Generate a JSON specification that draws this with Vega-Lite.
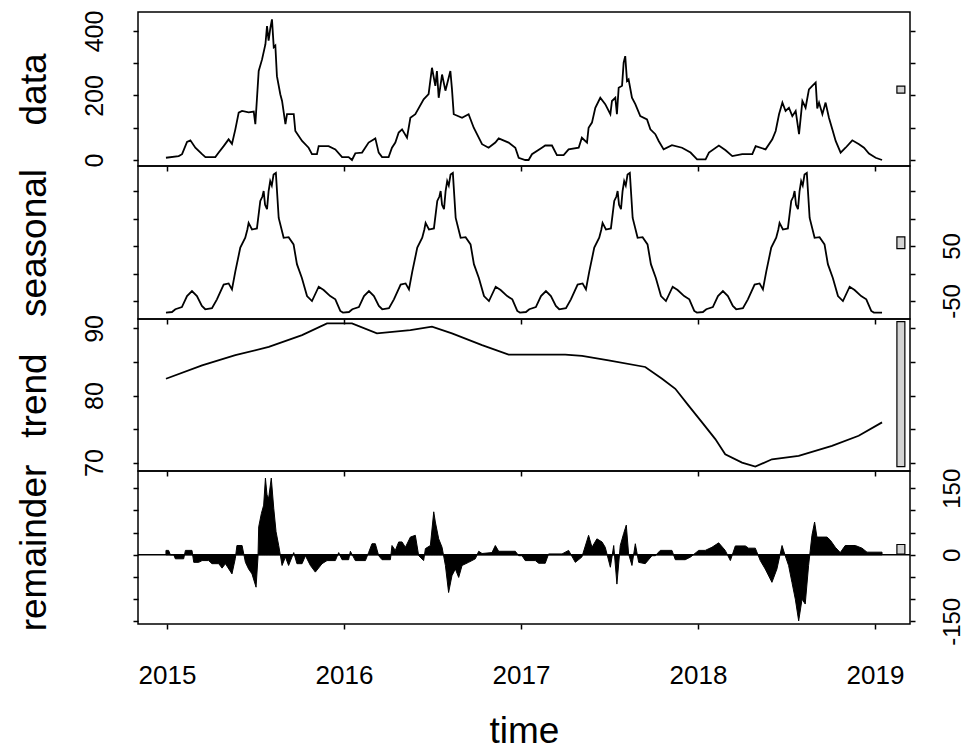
{
  "$schema": "https://vega.github.io/schema/vega-lite/v6.json",
  "padding": {"left": 14, "top": 9, "right": 0, "bottom": 0},
  "spacing": 0,
  "bounds": "flush",
  "config": {
    "font": "Liberation Sans",
    "view": {"stroke": "black", "strokeWidth": 1.5},
    "axis": {"domain": false, "grid": false, "tickColor": "black", "tickWidth": 1.5, "tickSize": 5, "labelColor": "black", "titleColor": "black", "labelFont": "Liberation Sans", "titleFont": "Liberation Sans", "titleFontWeight": "normal", "labelOverlap": false, "labelBound": false, "labelFlush": false}
  },
  "datasets": {
    "data": [
      {"t":2014.994,"v":7},{"t":2015.066,"v":12},{"t":2015.085,"v":18},{"t":2015.113,"v":56},{"t":2015.132,"v":61},{"t":2015.160,"v":38},{"t":2015.198,"v":18},{"t":2015.217,"v":9},{"t":2015.273,"v":9},{"t":2015.292,"v":23},{"t":2015.320,"v":43},{"t":2015.348,"v":64},{"t":2015.367,"v":50},{"t":2015.386,"v":95},{"t":2015.405,"v":147},{"t":2015.424,"v":152},{"t":2015.461,"v":148},{"t":2015.490,"v":150},{"t":2015.499,"v":111},{"t":2015.518,"v":276},{"t":2015.537,"v":312},{"t":2015.556,"v":359},{"t":2015.565,"v":415},{"t":2015.574,"v":370},{"t":2015.584,"v":410},{"t":2015.593,"v":436},{"t":2015.603,"v":350},{"t":2015.612,"v":355},{"t":2015.621,"v":260},{"t":2015.640,"v":204},{"t":2015.650,"v":183},{"t":2015.669,"v":111},{"t":2015.678,"v":142},{"t":2015.716,"v":142},{"t":2015.725,"v":90},{"t":2015.763,"v":59},{"t":2015.800,"v":38},{"t":2015.819,"v":18},{"t":2015.847,"v":18},{"t":2015.857,"v":43},{"t":2015.913,"v":43},{"t":2015.951,"v":33},{"t":2015.989,"v":9},{"t":2016.026,"v":9},{"t":2016.045,"v":0},{"t":2016.064,"v":21},{"t":2016.102,"v":23},{"t":2016.139,"v":54},{"t":2016.177,"v":67},{"t":2016.196,"v":23},{"t":2016.215,"v":9},{"t":2016.252,"v":9},{"t":2016.271,"v":38},{"t":2016.290,"v":54},{"t":2016.309,"v":85},{"t":2016.328,"v":95},{"t":2016.356,"v":69},{"t":2016.375,"v":131},{"t":2016.403,"v":142},{"t":2016.450,"v":188},{"t":2016.478,"v":204},{"t":2016.497,"v":286},{"t":2016.516,"v":230},{"t":2016.525,"v":276},{"t":2016.535,"v":193},{"t":2016.554,"v":265},{"t":2016.573,"v":215},{"t":2016.601,"v":276},{"t":2016.610,"v":220},{"t":2016.620,"v":142},{"t":2016.667,"v":131},{"t":2016.704,"v":142},{"t":2016.733,"v":100},{"t":2016.780,"v":49},{"t":2016.817,"v":38},{"t":2016.855,"v":54},{"t":2016.874,"v":67},{"t":2016.930,"v":54},{"t":2016.968,"v":38},{"t":2016.987,"v":7},{"t":2017.024,"v":0},{"t":2017.043,"v":0},{"t":2017.062,"v":18},{"t":2017.118,"v":38},{"t":2017.137,"v":45},{"t":2017.175,"v":45},{"t":2017.203,"v":15},{"t":2017.241,"v":15},{"t":2017.269,"v":33},{"t":2017.326,"v":38},{"t":2017.344,"v":69},{"t":2017.373,"v":54},{"t":2017.382,"v":100},{"t":2017.401,"v":116},{"t":2017.420,"v":162},{"t":2017.448,"v":193},{"t":2017.476,"v":173},{"t":2017.505,"v":142},{"t":2017.514,"v":183},{"t":2017.533,"v":193},{"t":2017.542,"v":142},{"t":2017.552,"v":224},{"t":2017.571,"v":230},{"t":2017.580,"v":302},{"t":2017.589,"v":322},{"t":2017.599,"v":245},{"t":2017.608,"v":250},{"t":2017.627,"v":193},{"t":2017.646,"v":173},{"t":2017.674,"v":136},{"t":2017.712,"v":126},{"t":2017.731,"v":95},{"t":2017.759,"v":80},{"t":2017.778,"v":59},{"t":2017.806,"v":33},{"t":2017.853,"v":46},{"t":2017.910,"v":38},{"t":2017.958,"v":23},{"t":2017.995,"v":2},{"t":2018.043,"v":2},{"t":2018.062,"v":23},{"t":2018.118,"v":45},{"t":2018.156,"v":30},{"t":2018.194,"v":12},{"t":2018.250,"v":18},{"t":2018.307,"v":18},{"t":2018.326,"v":43},{"t":2018.382,"v":33},{"t":2018.420,"v":64},{"t":2018.439,"v":90},{"t":2018.458,"v":142},{"t":2018.477,"v":178},{"t":2018.495,"v":152},{"t":2018.514,"v":162},{"t":2018.533,"v":136},{"t":2018.552,"v":152},{"t":2018.571,"v":80},{"t":2018.590,"v":183},{"t":2018.608,"v":162},{"t":2018.627,"v":219},{"t":2018.646,"v":230},{"t":2018.665,"v":240},{"t":2018.674,"v":160},{"t":2018.684,"v":178},{"t":2018.703,"v":142},{"t":2018.721,"v":178},{"t":2018.740,"v":131},{"t":2018.759,"v":95},{"t":2018.778,"v":59},{"t":2018.806,"v":23},{"t":2018.834,"v":38},{"t":2018.872,"v":61},{"t":2018.910,"v":49},{"t":2018.938,"v":38},{"t":2018.966,"v":20},{"t":2019.004,"v":7},{"t":2019.040,"v":0}
    ],
    "seasonal": [
      {"t":2014.994,"v":-71},{"t":2015.028,"v":-70},{"t":2015.047,"v":-65},{"t":2015.084,"v":-61},{"t":2015.113,"v":-41},{"t":2015.141,"v":-32},{"t":2015.169,"v":-41},{"t":2015.197,"v":-59},{"t":2015.216,"v":-65},{"t":2015.254,"v":-63},{"t":2015.282,"v":-47},{"t":2015.320,"v":-20},{"t":2015.348,"v":-18},{"t":2015.367,"v":-29},{"t":2015.386,"v":4},{"t":2015.414,"v":47},{"t":2015.442,"v":65},{"t":2015.454,"v":80},{"t":2015.461,"v":92},{"t":2015.480,"v":80},{"t":2015.508,"v":82},{"t":2015.527,"v":132},{"t":2015.539,"v":140},{"t":2015.546,"v":150},{"t":2015.554,"v":125},{"t":2015.565,"v":117},{"t":2015.574,"v":150},{"t":2015.583,"v":168},{"t":2015.592,"v":160},{"t":2015.602,"v":180},{"t":2015.615,"v":183},{"t":2015.631,"v":101},{"t":2015.659,"v":65},{"t":2015.687,"v":66},{"t":2015.715,"v":53},{"t":2015.734,"v":17},{"t":2015.762,"v":-8},{"t":2015.791,"v":-41},{"t":2015.819,"v":-50},{"t":2015.857,"v":-24},{"t":2015.885,"v":-30},{"t":2015.922,"v":-41},{"t":2015.951,"v":-47},{"t":2015.979,"v":-68},
      {"t":2015.994,"v":-71},{"t":2016.028,"v":-70},{"t":2016.047,"v":-65},{"t":2016.084,"v":-61},{"t":2016.113,"v":-41},{"t":2016.141,"v":-32},{"t":2016.169,"v":-41},{"t":2016.197,"v":-59},{"t":2016.216,"v":-65},{"t":2016.254,"v":-63},{"t":2016.282,"v":-47},{"t":2016.320,"v":-20},{"t":2016.348,"v":-18},{"t":2016.367,"v":-29},{"t":2016.386,"v":4},{"t":2016.414,"v":47},{"t":2016.442,"v":65},{"t":2016.454,"v":80},{"t":2016.461,"v":92},{"t":2016.480,"v":80},{"t":2016.508,"v":82},{"t":2016.527,"v":132},{"t":2016.539,"v":140},{"t":2016.546,"v":150},{"t":2016.554,"v":125},{"t":2016.565,"v":117},{"t":2016.574,"v":150},{"t":2016.583,"v":168},{"t":2016.592,"v":160},{"t":2016.602,"v":180},{"t":2016.615,"v":183},{"t":2016.631,"v":101},{"t":2016.659,"v":65},{"t":2016.687,"v":66},{"t":2016.715,"v":53},{"t":2016.734,"v":17},{"t":2016.762,"v":-8},{"t":2016.791,"v":-41},{"t":2016.819,"v":-50},{"t":2016.857,"v":-24},{"t":2016.885,"v":-30},{"t":2016.922,"v":-41},{"t":2016.951,"v":-47},{"t":2016.979,"v":-68},
      {"t":2016.994,"v":-71},{"t":2017.028,"v":-70},{"t":2017.047,"v":-65},{"t":2017.084,"v":-61},{"t":2017.113,"v":-41},{"t":2017.141,"v":-32},{"t":2017.169,"v":-41},{"t":2017.197,"v":-59},{"t":2017.216,"v":-65},{"t":2017.254,"v":-63},{"t":2017.282,"v":-47},{"t":2017.320,"v":-20},{"t":2017.348,"v":-18},{"t":2017.367,"v":-29},{"t":2017.386,"v":4},{"t":2017.414,"v":47},{"t":2017.442,"v":65},{"t":2017.454,"v":80},{"t":2017.461,"v":92},{"t":2017.480,"v":80},{"t":2017.508,"v":82},{"t":2017.527,"v":132},{"t":2017.539,"v":140},{"t":2017.546,"v":150},{"t":2017.554,"v":125},{"t":2017.565,"v":117},{"t":2017.574,"v":150},{"t":2017.583,"v":168},{"t":2017.592,"v":160},{"t":2017.602,"v":180},{"t":2017.615,"v":183},{"t":2017.631,"v":101},{"t":2017.659,"v":65},{"t":2017.687,"v":66},{"t":2017.715,"v":53},{"t":2017.734,"v":17},{"t":2017.762,"v":-8},{"t":2017.791,"v":-41},{"t":2017.819,"v":-50},{"t":2017.857,"v":-24},{"t":2017.885,"v":-30},{"t":2017.922,"v":-41},{"t":2017.951,"v":-47},{"t":2017.979,"v":-68},
      {"t":2017.994,"v":-71},{"t":2018.028,"v":-70},{"t":2018.047,"v":-65},{"t":2018.084,"v":-61},{"t":2018.113,"v":-41},{"t":2018.141,"v":-32},{"t":2018.169,"v":-41},{"t":2018.197,"v":-59},{"t":2018.216,"v":-65},{"t":2018.254,"v":-63},{"t":2018.282,"v":-47},{"t":2018.320,"v":-20},{"t":2018.348,"v":-18},{"t":2018.367,"v":-29},{"t":2018.386,"v":4},{"t":2018.414,"v":47},{"t":2018.442,"v":65},{"t":2018.454,"v":80},{"t":2018.461,"v":92},{"t":2018.480,"v":80},{"t":2018.508,"v":82},{"t":2018.527,"v":132},{"t":2018.539,"v":140},{"t":2018.546,"v":150},{"t":2018.554,"v":125},{"t":2018.565,"v":117},{"t":2018.574,"v":150},{"t":2018.583,"v":168},{"t":2018.592,"v":160},{"t":2018.602,"v":180},{"t":2018.615,"v":183},{"t":2018.631,"v":101},{"t":2018.659,"v":65},{"t":2018.687,"v":66},{"t":2018.715,"v":53},{"t":2018.734,"v":17},{"t":2018.762,"v":-8},{"t":2018.791,"v":-41},{"t":2018.819,"v":-50},{"t":2018.857,"v":-24},{"t":2018.885,"v":-30},{"t":2018.922,"v":-41},{"t":2018.951,"v":-47},{"t":2018.979,"v":-68},
      {"t":2018.994,"v":-71},{"t":2019.040,"v":-71}
    ],
    "trend": [
      {"t":2014.994,"v":82.5},{"t":2015.198,"v":84.5},{"t":2015.386,"v":86},{"t":2015.575,"v":87.25},{"t":2015.763,"v":89},{"t":2015.904,"v":90.75},{"t":2016.045,"v":90.75},{"t":2016.186,"v":89.25},{"t":2016.375,"v":89.75},{"t":2016.497,"v":90.25},{"t":2016.610,"v":89.25},{"t":2016.780,"v":87.5},{"t":2016.930,"v":86.1},{"t":2017.250,"v":86.1},{"t":2017.345,"v":85.9},{"t":2017.495,"v":85.25},{"t":2017.702,"v":84.25},{"t":2017.797,"v":82.5},{"t":2017.872,"v":81},{"t":2017.947,"v":78.5},{"t":2018.023,"v":76},{"t":2018.098,"v":73.5},{"t":2018.154,"v":71.25},{"t":2018.249,"v":70},{"t":2018.324,"v":69.4},{"t":2018.418,"v":70.5},{"t":2018.569,"v":71},{"t":2018.757,"v":72.5},{"t":2018.908,"v":74},{"t":2019.040,"v":76}
    ],
    "remainder": [
      {"t":2014.994,"v":10},{"t":2015.009,"v":10},{"t":2015.019,"v":0},{"t":2015.038,"v":0},{"t":2015.047,"v":-9},{"t":2015.094,"v":-9},{"t":2015.104,"v":10},{"t":2015.141,"v":10},{"t":2015.151,"v":-17},{"t":2015.179,"v":-17},{"t":2015.198,"v":-13},{"t":2015.235,"v":-13},{"t":2015.254,"v":-20},{"t":2015.292,"v":-20},{"t":2015.311,"v":-30},{"t":2015.330,"v":-20},{"t":2015.367,"v":-43},{"t":2015.386,"v":-8},{"t":2015.395,"v":21},{"t":2015.424,"v":21},{"t":2015.443,"v":-17},{"t":2015.461,"v":-32},{"t":2015.480,"v":-43},{"t":2015.503,"v":-73},{"t":2015.514,"v":-5},{"t":2015.518,"v":63},{"t":2015.533,"v":93},{"t":2015.546,"v":112},{"t":2015.556,"v":173},{"t":2015.565,"v":135},{"t":2015.574,"v":127},{"t":2015.589,"v":173},{"t":2015.603,"v":105},{"t":2015.616,"v":52},{"t":2015.631,"v":21},{"t":2015.650,"v":-24},{"t":2015.669,"v":-5},{"t":2015.687,"v":-24},{"t":2015.716,"v":5},{"t":2015.734,"v":-20},{"t":2015.763,"v":-20},{"t":2015.782,"v":-2},{"t":2015.810,"v":-24},{"t":2015.838,"v":-39},{"t":2015.876,"v":-20},{"t":2015.904,"v":-13},{"t":2015.951,"v":-13},{"t":2015.970,"v":5},{"t":2015.989,"v":-11},{"t":2016.026,"v":-11},{"t":2016.036,"v":8},{"t":2016.064,"v":-13},{"t":2016.121,"v":-13},{"t":2016.139,"v":5},{"t":2016.158,"v":25},{"t":2016.177,"v":25},{"t":2016.196,"v":-2},{"t":2016.215,"v":-11},{"t":2016.262,"v":-11},{"t":2016.271,"v":21},{"t":2016.290,"v":10},{"t":2016.309,"v":29},{"t":2016.328,"v":29},{"t":2016.347,"v":17},{"t":2016.375,"v":40},{"t":2016.403,"v":44},{"t":2016.422,"v":-2},{"t":2016.450,"v":-13},{"t":2016.460,"v":14},{"t":2016.488,"v":21},{"t":2016.507,"v":97},{"t":2016.516,"v":74},{"t":2016.535,"v":36},{"t":2016.554,"v":17},{"t":2016.573,"v":-24},{"t":2016.591,"v":-85},{"t":2016.610,"v":-47},{"t":2016.629,"v":-32},{"t":2016.648,"v":-51},{"t":2016.667,"v":-24},{"t":2016.704,"v":-17},{"t":2016.742,"v":-9},{"t":2016.761,"v":8},{"t":2016.780,"v":3},{"t":2016.836,"v":5},{"t":2016.855,"v":21},{"t":2016.874,"v":8},{"t":2016.968,"v":8},{"t":2016.987,"v":-2},{"t":2017.006,"v":-2},{"t":2017.024,"v":-13},{"t":2017.081,"v":-13},{"t":2017.100,"v":-19},{"t":2017.137,"v":-19},{"t":2017.156,"v":2},{"t":2017.232,"v":2},{"t":2017.269,"v":10},{"t":2017.307,"v":-17},{"t":2017.344,"v":-5},{"t":2017.382,"v":44},{"t":2017.401,"v":17},{"t":2017.429,"v":36},{"t":2017.458,"v":29},{"t":2017.476,"v":17},{"t":2017.505,"v":-28},{"t":2017.524,"v":21},{"t":2017.542,"v":-66},{"t":2017.561,"v":21},{"t":2017.580,"v":48},{"t":2017.595,"v":67},{"t":2017.608,"v":2},{"t":2017.627,"v":-24},{"t":2017.646,"v":25},{"t":2017.665,"v":-17},{"t":2017.702,"v":-20},{"t":2017.740,"v":-2},{"t":2017.759,"v":-2},{"t":2017.787,"v":10},{"t":2017.853,"v":10},{"t":2017.872,"v":-11},{"t":2017.928,"v":-11},{"t":2017.958,"v":-5},{"t":2018.004,"v":10},{"t":2018.041,"v":10},{"t":2018.079,"v":17},{"t":2018.117,"v":27},{"t":2018.154,"v":10},{"t":2018.183,"v":-13},{"t":2018.211,"v":20},{"t":2018.268,"v":20},{"t":2018.286,"v":15},{"t":2018.324,"v":15},{"t":2018.352,"v":-13},{"t":2018.380,"v":-32},{"t":2018.418,"v":-62},{"t":2018.446,"v":-32},{"t":2018.475,"v":21},{"t":2018.493,"v":-2},{"t":2018.512,"v":-24},{"t":2018.531,"v":-62},{"t":2018.550,"v":-100},{"t":2018.569,"v":-149},{"t":2018.588,"v":-100},{"t":2018.606,"v":-111},{"t":2018.625,"v":-24},{"t":2018.644,"v":44},{"t":2018.659,"v":74},{"t":2018.672,"v":40},{"t":2018.701,"v":40},{"t":2018.729,"v":40},{"t":2018.748,"v":33},{"t":2018.776,"v":17},{"t":2018.804,"v":5},{"t":2018.832,"v":21},{"t":2018.889,"v":21},{"t":2018.927,"v":15},{"t":2018.955,"v":6},{"t":2019.040,"v":6}
    ],
    "bars": [
      {"panel":"data","t1":2019.124,"t2":2019.169,"lo":207.2,"hi":228.8},
      {"panel":"seasonal","t1":2019.124,"t2":2019.169,"lo":45.2,"hi":66.8},
      {"panel":"trend","t1":2019.124,"t2":2019.169,"lo":69.4,"hi":91},
      {"panel":"remainder","t1":2019.124,"t2":2019.169,"lo":1.7,"hi":23.3}
    ]
  },
  "vconcat": [
    {
      "width": 772, "height": 154,
      "resolve": {"axis": {"y": "independent"}},
      "layer": [
        {
          "data": {"name": "data"},
          "mark": {"type": "line", "color": "black", "strokeWidth": 1.8},
          "encoding": {
            "x": {"field": "t", "type": "quantitative", "scale": {"domain": [2014.836, 2019.198], "nice": false, "zero": false}, "axis": {"values": [2015, 2016, 2017, 2018, 2019], "labels": false, "title": null}},
            "y": {"field": "v", "type": "quantitative", "scale": {"domain": [-18.6, 458.9], "nice": false, "zero": false},
              "axis": {"orient": "left", "values": [0, 100, 200, 300, 400], "labelExpr": "datum.value === 0 ? '0' : datum.value === 200 ? '200' : datum.value === 400 ? '400' : ''", "labelAngle": -90, "labelAlign": "center", "labelBaseline": "bottom", "labelPadding": 26, "labelFontSize": 25,
                "title": "data", "titleFontSize": 37, "titleAngle": -90, "titleAlign": "center", "titleBaseline": "bottom", "titleX": -85, "titleY": 77}}
          }
        },
        {
          "data": {"name": "bars"},
          "transform": [{"filter": "datum.panel === 'data'"}],
          "mark": {"type": "rect", "fill": "#d3d3d3", "stroke": "black", "strokeWidth": 1.2},
          "encoding": {
            "x": {"field": "t1", "type": "quantitative", "scale": {"domain": [2014.836, 2019.198], "nice": false, "zero": false}, "axis": {"values": [2015, 2016, 2017, 2018, 2019], "labels": false, "title": null}},
            "x2": {"field": "t2"},
            "y": {"field": "lo", "type": "quantitative", "scale": {"domain": [-18.6, 458.9], "nice": false, "zero": false}, "axis": {"orient": "right", "values": [0, 100, 200, 300, 400], "labels": false, "title": null}},
            "y2": {"field": "hi"}
          }
        }
      ]
    },
    {
      "width": 772, "height": 153,
      "resolve": {"axis": {"y": "independent"}},
      "layer": [
        {
          "data": {"name": "seasonal"},
          "mark": {"type": "line", "color": "black", "strokeWidth": 1.8},
          "encoding": {
            "x": {"field": "t", "type": "quantitative", "scale": {"domain": [2014.836, 2019.198], "nice": false, "zero": false}, "axis": {"values": [2015, 2016, 2017, 2018, 2019], "labels": false, "title": null}},
            "y": {"field": "v", "type": "quantitative", "scale": {"domain": [-82.7, 195.5], "nice": false, "zero": false},
              "axis": {"orient": "left", "values": [-50, 0, 50, 100, 150], "labels": false,
                "title": "seasonal", "titleFontSize": 37, "titleAngle": -90, "titleAlign": "center", "titleBaseline": "bottom", "titleX": -85, "titleY": 76.5}}
          }
        },
        {
          "data": {"name": "bars"},
          "transform": [{"filter": "datum.panel === 'seasonal'"}],
          "mark": {"type": "rect", "fill": "#d3d3d3", "stroke": "black", "strokeWidth": 1.2},
          "encoding": {
            "x": {"field": "t1", "type": "quantitative", "scale": {"domain": [2014.836, 2019.198], "nice": false, "zero": false}, "axis": {"values": [2015, 2016, 2017, 2018, 2019], "labels": false, "title": null}},
            "x2": {"field": "t2"},
            "y": {"field": "lo", "type": "quantitative", "scale": {"domain": [-82.7, 195.5], "nice": false, "zero": false},
              "axis": {"orient": "right", "values": [-50, 0, 50, 100, 150], "labelExpr": "datum.value === -50 ? '-50' : datum.value === 50 ? '50' : ''", "labelAngle": -90, "labelAlign": "center", "labelBaseline": "top", "labelPadding": 25, "labelFontSize": 24, "title": null}},
            "y2": {"field": "hi"}
          }
        }
      ]
    },
    {
      "width": 772, "height": 152,
      "resolve": {"axis": {"y": "independent"}},
      "layer": [
        {
          "data": {"name": "trend"},
          "mark": {"type": "line", "color": "black", "strokeWidth": 1.8},
          "encoding": {
            "x": {"field": "t", "type": "quantitative", "scale": {"domain": [2014.836, 2019.198], "nice": false, "zero": false}, "axis": {"values": [2015, 2016, 2017, 2018, 2019], "labels": false, "title": null}},
            "y": {"field": "v", "type": "quantitative", "scale": {"domain": [68.75, 91.4], "nice": false, "zero": false},
              "axis": {"orient": "left", "values": [70, 75, 80, 85, 90], "labelExpr": "datum.value === 70 ? '70' : datum.value === 80 ? '80' : datum.value === 90 ? '90' : ''", "labelAngle": -90, "labelAlign": "center", "labelBaseline": "bottom", "labelPadding": 26, "labelFontSize": 25,
                "title": "trend", "titleFontSize": 37, "titleAngle": -90, "titleAlign": "center", "titleBaseline": "bottom", "titleX": -85, "titleY": 76}}
          }
        },
        {
          "data": {"name": "bars"},
          "transform": [{"filter": "datum.panel === 'trend'"}],
          "mark": {"type": "rect", "fill": "#d3d3d3", "stroke": "black", "strokeWidth": 1.2},
          "encoding": {
            "x": {"field": "t1", "type": "quantitative", "scale": {"domain": [2014.836, 2019.198], "nice": false, "zero": false}, "axis": {"values": [2015, 2016, 2017, 2018, 2019], "labels": false, "title": null}},
            "x2": {"field": "t2"},
            "y": {"field": "lo", "type": "quantitative", "scale": {"domain": [68.75, 91.4], "nice": false, "zero": false}, "axis": {"orient": "right", "values": [70, 75, 80, 85, 90], "labels": false, "title": null}},
            "y2": {"field": "hi"}
          }
        }
      ]
    },
    {
      "width": 772, "height": 153,
      "resolve": {"axis": {"y": "independent"}},
      "layer": [
        {
          "data": {"name": "remainder"},
          "mark": {"type": "area", "color": "black", "stroke": "black", "strokeWidth": 1},
          "encoding": {
            "x": {"field": "t", "type": "quantitative", "scale": {"domain": [2014.836, 2019.198], "nice": false, "zero": false},
              "axis": {"values": [2015, 2016, 2017, 2018, 2019], "format": "d", "labelFontSize": 26, "labelPadding": 33, "title": "time", "titleFontSize": 37, "titleBaseline": "alphabetic", "titleY": 118}},
            "y": {"field": "v", "type": "quantitative", "scale": {"domain": [-156, 189], "nice": false, "zero": false},
              "axis": {"orient": "left", "values": [-150, -100, -50, 0, 50, 100, 150], "labels": false,
                "title": "remainder", "titleFontSize": 37, "titleAngle": -90, "titleAlign": "center", "titleBaseline": "bottom", "titleX": -85, "titleY": 76.5}},
            "y2": {"datum": 0}
          }
        },
        {
          "data": {"name": "bars"},
          "transform": [{"filter": "datum.panel === 'remainder'"}],
          "mark": {"type": "rule", "color": "black", "strokeWidth": 1.5},
          "encoding": {
            "y": {"datum": 0, "type": "quantitative", "scale": {"domain": [-156, 189], "nice": false, "zero": false}, "axis": null}
          }
        },
        {
          "data": {"name": "bars"},
          "transform": [{"filter": "datum.panel === 'remainder'"}],
          "mark": {"type": "rect", "fill": "#d3d3d3", "stroke": "black", "strokeWidth": 1.2},
          "encoding": {
            "x": {"field": "t1", "type": "quantitative", "scale": {"domain": [2014.836, 2019.198], "nice": false, "zero": false},
              "axis": {"values": [2015, 2016, 2017, 2018, 2019], "format": "d", "labelFontSize": 26, "labelPadding": 33, "title": "time", "titleFontSize": 37, "titleBaseline": "alphabetic", "titleY": 118}},
            "x2": {"field": "t2"},
            "y": {"field": "lo", "type": "quantitative", "scale": {"domain": [-156, 189], "nice": false, "zero": false},
              "axis": {"orient": "right", "values": [-150, -100, -50, 0, 50, 100, 150], "labelExpr": "datum.value === -150 ? '-150' : datum.value === 0 ? '0' : datum.value === 150 ? '150' : ''", "labelAngle": -90, "labelAlign": "center", "labelBaseline": "top", "labelPadding": 25, "labelFontSize": 24, "title": null}},
            "y2": {"field": "hi"}
          }
        }
      ]
    }
  ]
}
